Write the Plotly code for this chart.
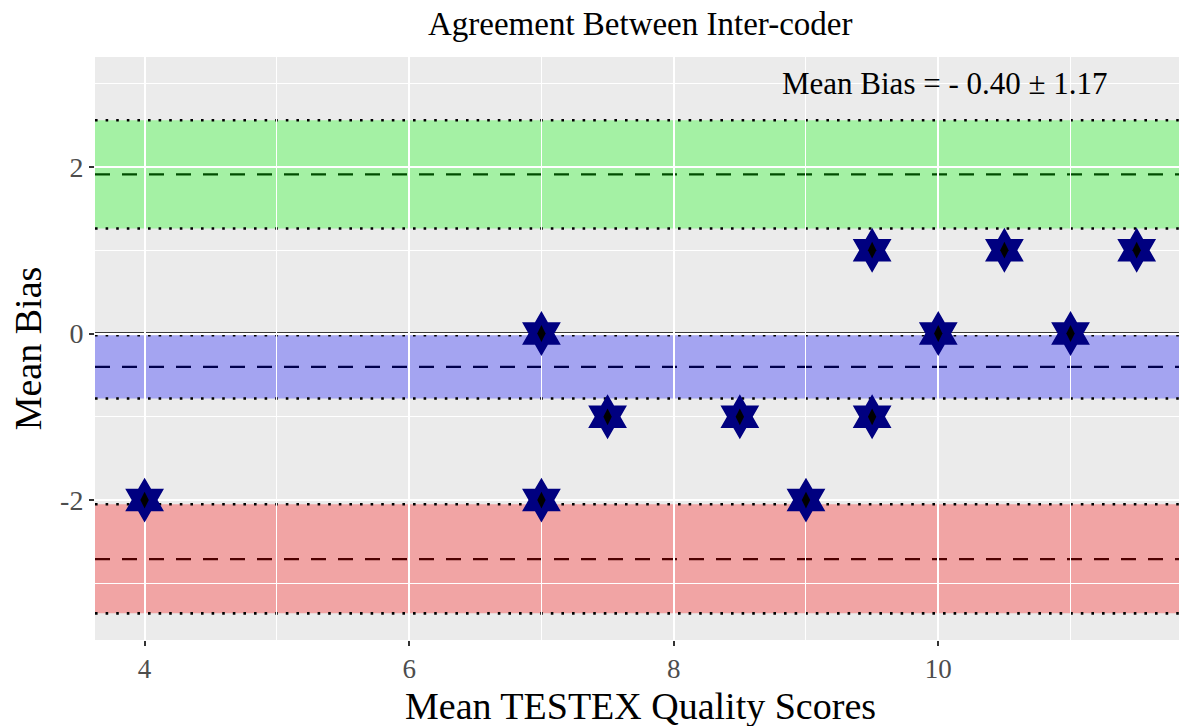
import plotly.graph_objects as go

# Mean of the two coders' scores vs. their difference (Bland-Altman style)
mean_scores = [4, 7, 7, 7.5, 8.5, 9, 9.5, 9.5, 10, 10.5, 11, 11.5]
bias = [-2, 0, -2, -1, -1, -2, 1, -1, 0, 1, 0, 1]

# Limits of agreement and their confidence bands
upper_loa = 1.91
upper_band = (1.26, 2.56)
mean_bias = -0.40
mean_band = (-0.78, -0.02)
lower_loa = -2.71
lower_band = (-3.36, -2.05)
bias_label = "Mean Bias = - 0.40 ± 1.17"

x_ticks = [4, 6, 8, 10]
y_ticks = [-2, 0, 2]

SERIF = "Liberation Serif, Times New Roman, serif"

fig = go.Figure()

# bias points: navy hexagrams with a small black centre mark
fig.add_trace(go.Scatter(
    x=mean_scores, y=bias, mode="markers",
    marker=dict(symbol="hexagram", size=34, color="#000080",
                line=dict(width=0)),
    showlegend=False, hoverinfo="x+y"))
fig.add_trace(go.Scatter(
    x=mean_scores, y=bias, mode="markers",
    marker=dict(symbol="diamond-tall", size=12, color="black",
                line=dict(width=0)),
    showlegend=False, hoverinfo="skip"))

shapes = []
bands = [
    (upper_loa, upper_band, "rgba(0,255,0,0.30)"),
    (mean_bias, mean_band, "rgba(0,0,255,0.30)"),
    (lower_loa, lower_band, "rgba(255,0,0,0.30)"),
]
# dashed centre lines sit beneath the translucent bands
for centre, (lo, hi), fill in bands:
    shapes.append(dict(type="line", xref="paper", yref="y", x0=0, x1=1,
                       y0=centre, y1=centre, layer="between",
                       line=dict(color="black", width=2.2, dash="15px,12px")))
for centre, (lo, hi), fill in bands:
    shapes.append(dict(type="rect", xref="paper", yref="y", x0=0, x1=1,
                       y0=lo, y1=hi, layer="between", fillcolor=fill,
                       line=dict(width=0)))
# zero reference line
shapes.append(dict(type="line", xref="paper", yref="y", x0=0, x1=1,
                   y0=0, y1=0, layer="between",
                   line=dict(color="black", width=2.4)))
# dotted band edges
for centre, (lo, hi), fill in bands:
    for edge in (lo, hi):
        shapes.append(dict(type="line", xref="paper", yref="y", x0=0, x1=1,
                           y0=edge, y1=edge, layer="between",
                           line=dict(color="black", width=2.6, dash="2.6px,8px")))

fig.update_layout(
    width=1179, height=726,
    margin=dict(l=95, r=0, t=57, b=86, autoexpand=False),
    paper_bgcolor="white", plot_bgcolor="#EBEBEB",
    shapes=shapes,
    title=dict(text="Agreement Between Inter-coder", x=0.543, xanchor="center",
               y=0.968, yanchor="middle",
               font=dict(family=SERIF, size=33, color="black")),
    annotations=[
        dict(x=10.05, y=3.0, xref="x", yref="y", text=bias_label,
             showarrow=False, font=dict(family=SERIF, size=31, color="black")),
        # x-axis title
        dict(x=0.503, y=-0.153, xref="paper", yref="paper",
             xanchor="center", yanchor="bottom",
             text="Mean TESTEX Quality Scores", showarrow=False,
             font=dict(family=SERIF, size=38, color="black")),
    ],
    font=dict(family=SERIF),
)

fig.update_xaxes(
    range=[3.625, 11.82], tickvals=x_ticks, ticktext=[str(v) for v in x_ticks],
    showgrid=True, gridcolor="white", gridwidth=1.6, zeroline=False,
    minor=dict(dtick=1, tick0=0, showgrid=True, gridcolor="white", gridwidth=0.8),
    ticks="outside", ticklen=5, tickwidth=1.5, tickcolor="#333333",
    tickfont=dict(family=SERIF, size=27, color="#4D4D4D"),
    showline=False,
)
fig.update_yaxes(
    range=[-3.68, 3.32], tickvals=y_ticks, ticktext=[str(v) for v in y_ticks],
    showgrid=True, gridcolor="white", gridwidth=1.6, zeroline=False,
    minor=dict(dtick=1, tick0=1, showgrid=True, gridcolor="white", gridwidth=0.8),
    ticks="outside", ticklen=5, tickwidth=1.5, tickcolor="#333333",
    tickfont=dict(family=SERIF, size=28, color="#4D4D4D"),
    title=dict(text="Mean Bias", standoff=6,
               font=dict(family=SERIF, size=38, color="black")),
    showline=False,
)

fig.write_html("out.html")
